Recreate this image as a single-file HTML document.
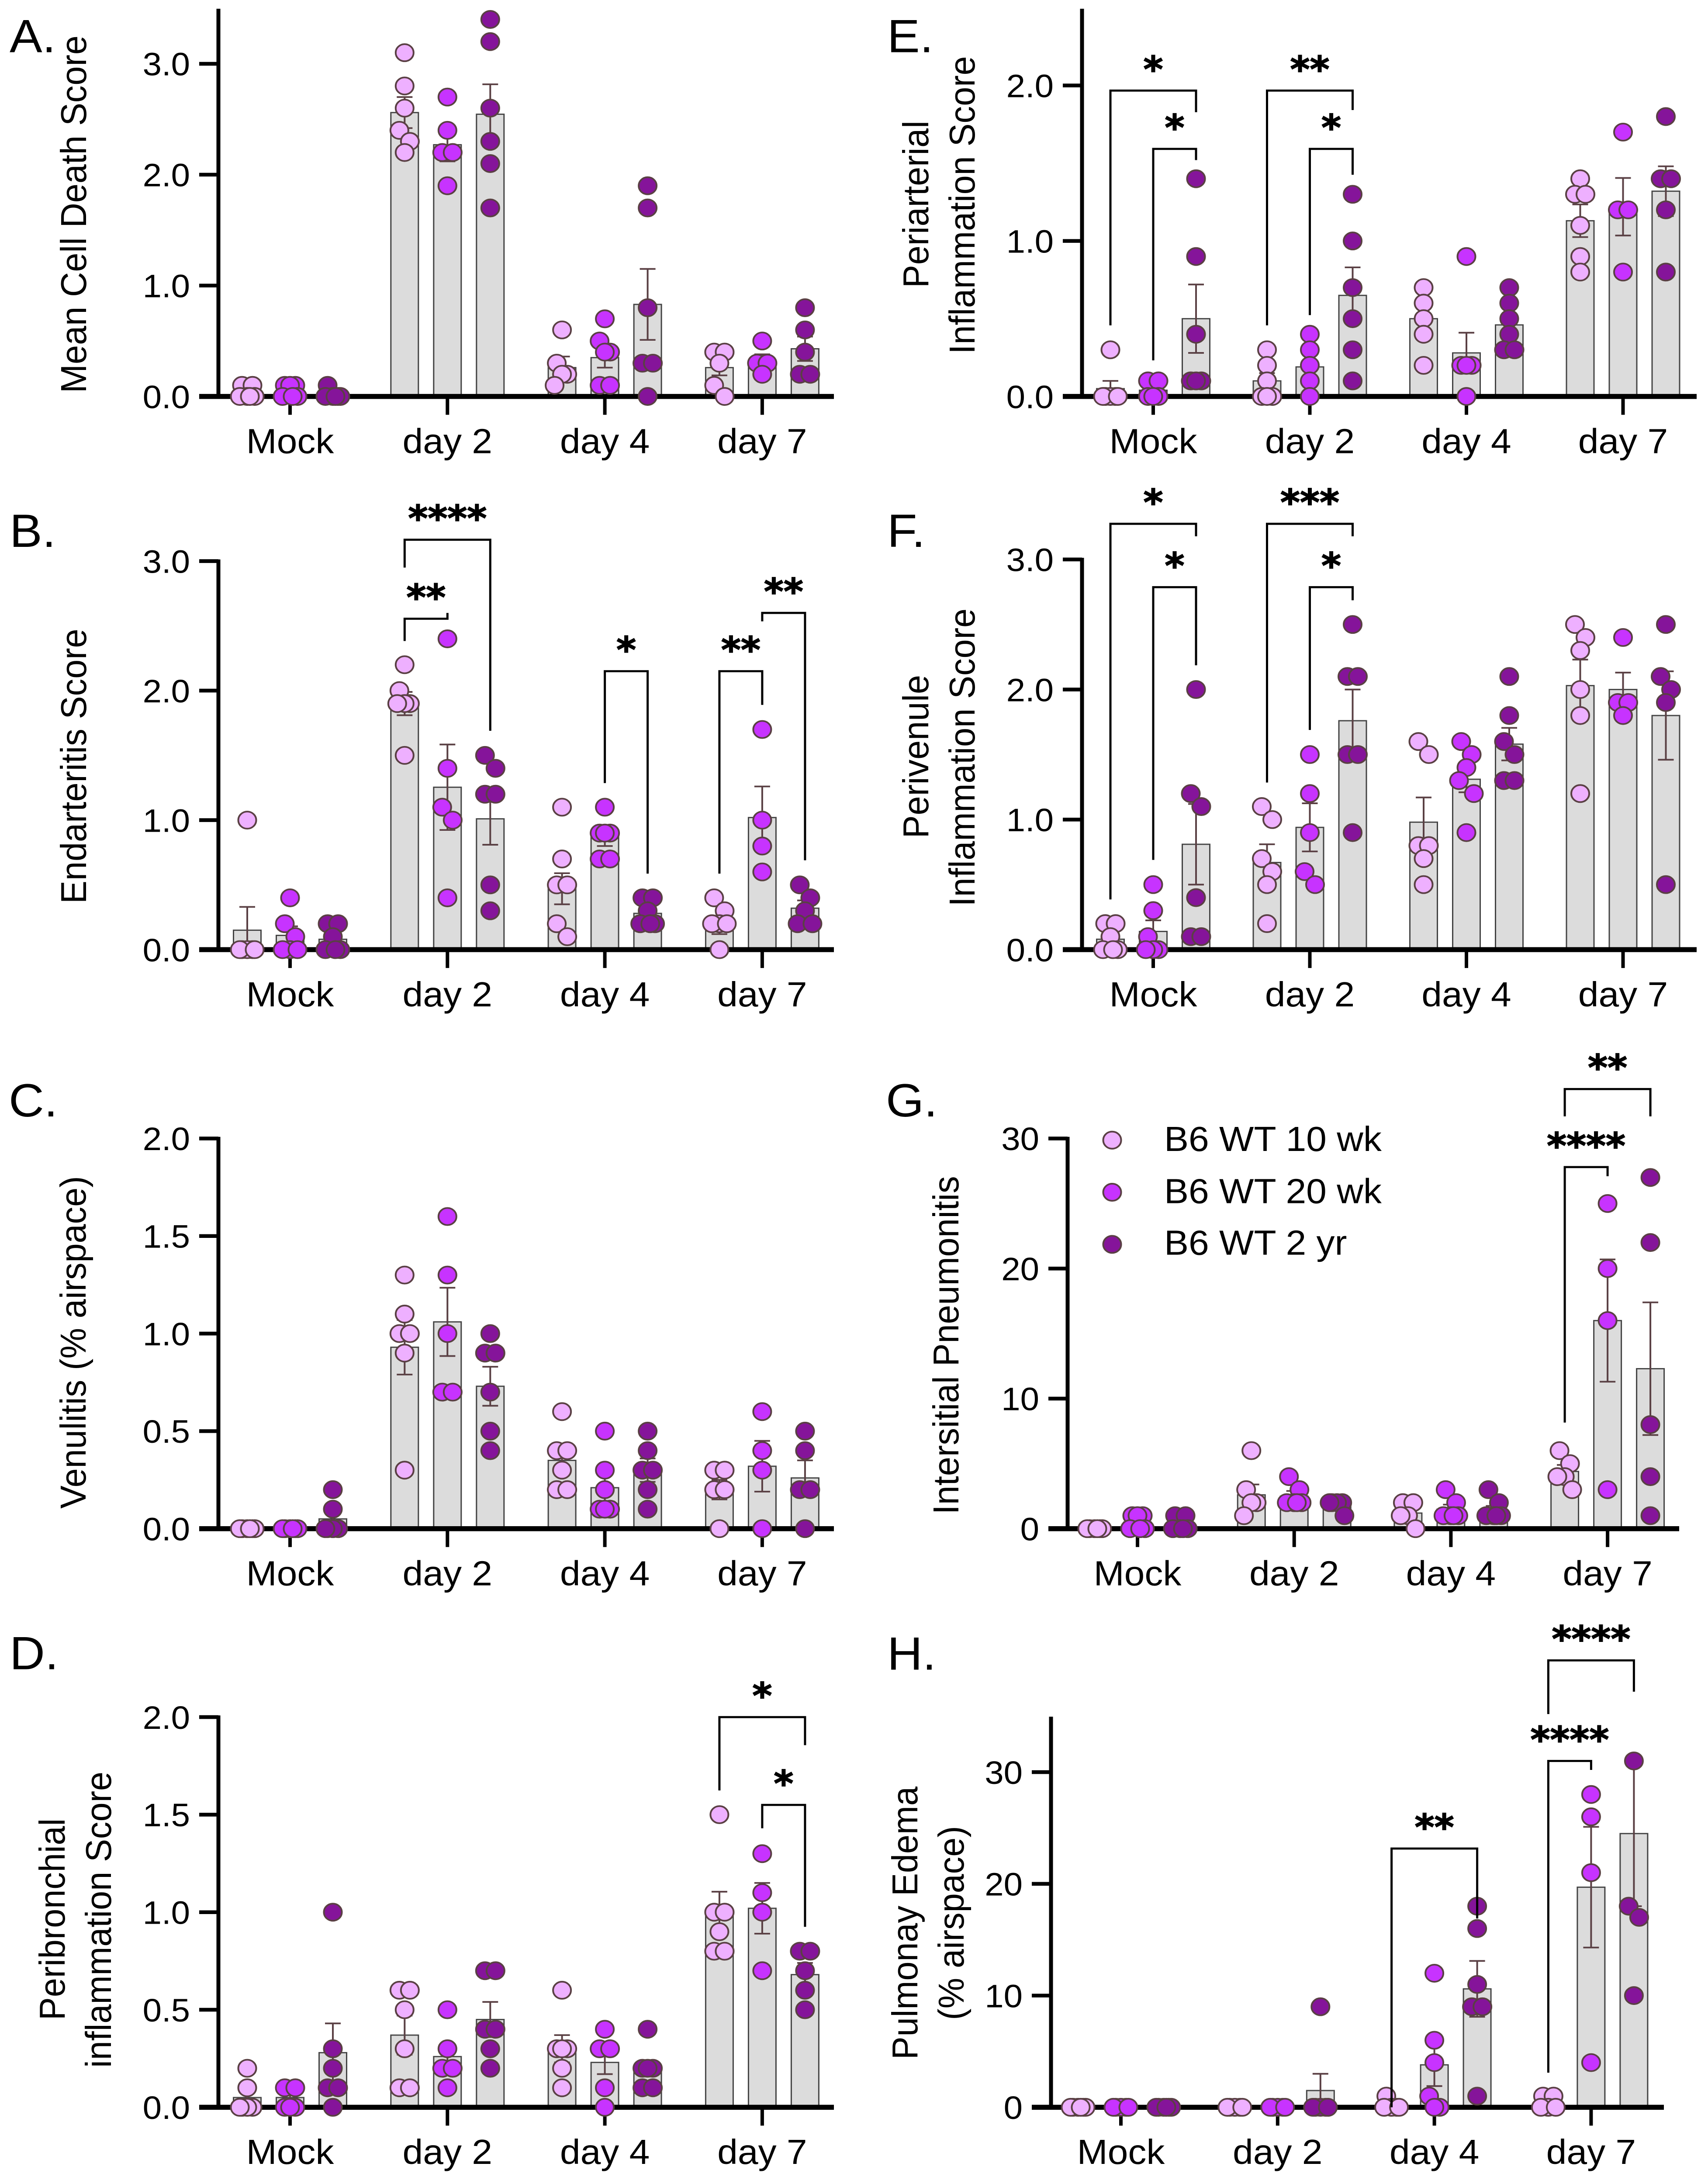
<!DOCTYPE html>
<html lang="en">
<head>
<meta charset="utf-8">
<title>Lung pathology scores by age group and day</title>
<style>
html,body{margin:0;padding:0;background:#fff;width:100%;height:100%;overflow:hidden}
svg{display:block;width:100vw;height:100vh}
text{font-family:"Liberation Sans",sans-serif;fill:#000}
.letter{font-size:112px}
.ytitle{font-size:83px;text-anchor:middle}
.legend-text{font-size:84px}
.tick-label{font-size:78px;text-anchor:end}
.cat-label{font-size:84px;text-anchor:middle}
.stars{font-family:"DejaVu Sans",sans-serif;font-weight:bold;font-size:86px;text-anchor:middle;stroke:#000;stroke-width:2px}
</style>
</head>
<body>
<svg id="figure" xmlns="http://www.w3.org/2000/svg" viewBox="0 0 3910 5239" preserveAspectRatio="none">
  <rect width="3910" height="5239" fill="#fff"/>

  <g id="panel-a">
    <text class="letter" x="22" y="125">A.</text>
    <text class="ytitle" transform="translate(197,514) rotate(-90)">Mean Cell Death Score</text>
  </g>
  <g id="panel-b">
    <text class="letter" x="22" y="1312">B.</text>
    <text class="ytitle" transform="translate(197,1838) rotate(-90)">Endarteritis Score</text>
  </g>
  <g id="panel-c">
    <text class="letter" x="20" y="2678">C.</text>
    <text class="ytitle" transform="translate(196,3220) rotate(-90)">Venulitis (% airspace)</text>
  </g>
  <g id="panel-d">
    <text class="letter" x="22" y="4004">D.</text>
    <text class="ytitle" transform="translate(148,4604) rotate(-90)">Peribronchial</text>
    <text class="ytitle" transform="translate(254,4605) rotate(-90)">inflammation Score</text>
  </g>
  <g id="panel-e">
    <text class="letter" x="2031" y="125">E.</text>
    <text class="ytitle" transform="translate(2125,490) rotate(-90)">Periarterial</text>
    <text class="ytitle" transform="translate(2231,492) rotate(-90)">Inflammation Score</text>
  </g>
  <g id="panel-f">
    <text class="letter" x="2031" y="1312">F.</text>
    <text class="ytitle" transform="translate(2125,1815) rotate(-90)">Perivenule</text>
    <text class="ytitle" transform="translate(2231,1817) rotate(-90)">Inflammation Score</text>
  </g>
  <g id="panel-g">
    <text class="letter" x="2028" y="2678">G.</text>
    <text class="ytitle" transform="translate(2194,3227) rotate(-90)">Intersitial Pneumonitis</text>
    <g>
      <g>
        <circle cx="2546" cy="2735" r="20.5" fill="#eeb0ff" stroke="#5a4044" stroke-width="4"/>
        <text class="legend-text" x="2665" y="2761">B6 WT 10 wk</text>
      </g>
      <g>
        <circle cx="2546" cy="2860" r="20.5" fill="#c733ff" stroke="#5a4044" stroke-width="4"/>
        <text class="legend-text" x="2665" y="2886">B6 WT 20 wk</text>
      </g>
      <g>
        <circle cx="2546" cy="2985" r="20.5" fill="#85149a" stroke="#5a4044" stroke-width="4"/>
        <text class="legend-text" x="2665" y="3010">B6 WT 2 yr</text>
      </g>
    </g>
  </g>
  <g id="panel-h">
    <text class="letter" x="2031" y="4005">H.</text>
    <text class="ytitle" transform="translate(2100,4613) rotate(-90)">Pulmonay Edema</text>
    <text class="ytitle" transform="translate(2206,4613) rotate(-90)">(% airspace)</text>
  </g>
</svg>

<script>
const categories = ['Mock', 'day 2', 'day 4', 'day 7'];
const seriesKeys = ['10wk', '20wk', '2yr'];

// Each points / means / sems array runs Mock(10wk,20wk,2yr), day 2(...), day 4(...), day 7(...)
const panelA_ticks = ['0.0', '1.0', '2.0', '3.0'];
const panelA_points = [
  [0.1,0.1,0,0,0,0],[0.1,0.1,0.1,0,0,0],[0.1,0,0,0,0,0],
  [3.1,2.8,2.6,2.4,2.3,2.2],[2.7,2.4,2.2,2.2,1.9],[3.4,3.2,2.6,2.3,2.1,1.7],
  [0.6,0.3,0.2,0.2,0.1],[0.7,0.5,0.4,0.4,0.1,0.1],[1.9,1.7,0.8,0.3,0.3,0],
  [0.4,0.4,0.3,0.1,0],[0.5,0.3,0.3,0.2],[0.8,0.6,0.4,0.2,0.2]
];
const panelA_means = [0.03,0.05,0.02, 2.56,2.27,2.545, 0.26,0.35,0.83, 0.26,0.32,0.43];
const panelA_sems = [0.02,0.02,0.02, 0.14,0.15,0.27, 0.1,0.09,0.32, 0.07,0.06,0.11];
const panelA_brackets = [];

const panelB_ticks = ['0.0', '1.0', '2.0', '3.0'];
const panelB_points = [
  [1.0,0,0,0,0,0],[0.4,0.2,0.1,0,0,0],[0.2,0.2,0.1,0,0,0],
  [2.2,2.0,1.9,1.9,1.9,1.5],[2.4,1.4,1.1,1.0,0.4],[1.5,1.4,1.2,1.2,0.5,0.3],
  [1.1,0.7,0.5,0.5,0.2,0.1],[1.1,0.9,0.9,0.9,0.7,0.7],[0.4,0.4,0.3,0.2,0.2,0.2],
  [0.4,0.3,0.2,0.2,0.2,0],[1.7,1.0,0.8,0.6],[0.5,0.4,0.3,0.2,0.2]
];
const panelB_means = [0.15,0.11,0.08, 1.9,1.254,1.01, 0.47,0.87,0.28, 0.18,1.02,0.32];
const panelB_sems = [0.18,0.07,0.04, 0.09,0.33,0.2, 0.12,0.07,0.04, 0.06,0.24,0.06];
// group, seriesFrom, seriesTo, topValue, leftEndValue, rightEndValue, stars
const panelB_brackets = [
  [1,0,2,3.165,2.95,1.69,'****'],
  [1,0,1,2.555,2.383,2.6,'**'],
  [2,1,2,2.15,1.286,0.587,'*'],
  [3,0,1,2.15,0.587,1.89,'**'],
  [3,1,2,2.6,2.535,0.69,'**']
];

const panelC_ticks = ['0.0', '0.5', '1.0', '1.5', '2.0'];
const panelC_points = [
  [0,0,0,0,0,0],[0,0,0,0,0,0],[0.2,0.1,0,0,0,0],
  [1.3,1.1,1.0,1.0,0.9,0.3],[1.6,1.3,1.0,0.7,0.7],[1.0,0.9,0.9,0.7,0.5,0.4],
  [0.6,0.4,0.4,0.3,0.2,0.2],[0.5,0.3,0.2,0.1,0.1,0.1],[0.5,0.4,0.3,0.3,0.2,0.1],
  [0.3,0.3,0.2,0.2,0],[0.6,0.4,0.3,0],[0.5,0.4,0.2,0.2,0]
];
const panelC_means = [0,0,0.05, 0.93,1.06,0.73, 0.35,0.21,0.3, 0.2,0.32,0.26];
const panelC_sems = [0,0,0.035, 0.14,0.175,0.1, 0.07,0.07,0.06, 0.05,0.13,0.09];
const panelC_brackets = [];

const panelD_ticks = ['0.0', '0.5', '1.0', '1.5', '2.0'];
const panelD_points = [
  [0.2,0.1,0,0,0,0],[0.1,0.1,0,0,0],[1.0,0.3,0.2,0.1,0.1,0],
  [0.6,0.6,0.5,0.3,0.1,0.1],[0.5,0.3,0.2,0.2,0.1],[0.7,0.7,0.4,0.4,0.3,0.2],
  [0.6,0.3,0.3,0.3,0.2,0.1],[0.4,0.3,0.3,0.1,0],[0.4,0.2,0.2,0.2,0.1,0.1],
  [1.5,1.0,1.0,0.9,0.8,0.8],[1.3,1.1,1.0,0.7],[0.8,0.8,0.7,0.6,0.5]
];
const panelD_means = [0.05,0.05,0.28, 0.37,0.26,0.45, 0.3,0.23,0.2, 1.0,1.02,0.68];
const panelD_sems = [0.03,0.02,0.15, 0.1,0.05,0.09, 0.07,0.06,0.04, 0.105,0.13,0.06];
const panelD_brackets = [
  [3,0,2,2.0,1.624,1.856,'*'],
  [3,1,2,1.55,1.43,0.925,'*']
];

const panelE_ticks = ['0.0', '1.0', '2.0'];
const panelE_points = [
  [0.3,0,0,0,0,0],[0.1,0.1,0,0,0],[1.4,0.9,0.4,0.1,0.1,0.1],
  [0.3,0.2,0.1,0,0,0],[0.4,0.3,0.2,0.1,0],[1.3,1.0,0.7,0.5,0.3,0.1],
  [0.7,0.6,0.5,0.4,0.2],[0.9,0.2,0.2,0.2,0],[0.7,0.6,0.5,0.4,0.3,0.3],
  [1.4,1.3,1.3,1.1,0.9,0.8],[1.7,1.2,1.2,0.8],[1.8,1.4,1.4,1.2,0.8]
];
const panelE_means = [0.05,0.04,0.5, 0.1,0.19,0.65, 0.5,0.28,0.46, 1.13,1.22,1.32];
const panelE_sems = [0.05,0.03,0.22, 0.05,0.08,0.18, 0.08,0.13,0.07, 0.105,0.185,0.16];
const panelE_brackets = [
  [0,0,2,1.967,0.457,1.828,'*'],
  [0,1,2,1.592,0.232,1.52,'*'],
  [1,0,2,1.967,0.457,1.842,'**'],
  [1,1,2,1.592,0.523,1.426,'*']
];

const panelF_ticks = ['0.0', '1.0', '2.0', '3.0'];
const panelF_points = [
  [0.2,0.2,0.1,0,0,0],[0.5,0.3,0.1,0,0,0],[2.0,1.2,1.1,0.4,0.1,0.1],
  [1.1,1.0,0.7,0.6,0.5,0.2],[1.5,1.2,0.9,0.6,0.5],[2.5,2.1,2.1,1.5,1.5,0.9],
  [1.6,1.5,0.8,0.8,0.7,0.5],[1.6,1.5,1.4,1.3,1.2,0.9],[2.1,1.8,1.6,1.5,1.3,1.3],
  [2.5,2.4,2.3,2.0,1.8,1.2],[2.4,1.9,1.9,1.8],[2.5,2.1,2.0,1.9,0.5]
];
const panelF_means = [0.08,0.14,0.81, 0.67,0.94,1.76, 0.98,1.31,1.58, 2.03,2.0,1.8];
const panelF_sems = [0.04,0.085,0.31, 0.14,0.185,0.24, 0.19,0.1,0.125, 0.2,0.13,0.34];
const panelF_brackets = [
  [0,0,2,3.274,0.386,3.178,'*'],
  [0,1,2,2.787,0.69,2.186,'*'],
  [1,0,2,3.274,1.285,3.178,'***'],
  [1,1,2,2.787,1.689,2.686,'*']
];

const panelG_ticks = ['0', '10', '20', '30'];
const panelG_points = [
  [0,0,0,0,0,0],[1,1,1,0,0,0],[1,1,0,0,0,0],
  [6,3,2,2,1],[4,3,2,2,2,2],[2,2,2,2,1],
  [2,2,1,1,0],[3,2,1,1,1,1],[3,2,1,1,1,1],
  [6,5,4,4,3],[25,20,16,3],[27,22,8,4,1]
];
const panelG_means = [0,0.5,0.4, 2.6,2.5,1.8, 1.2,1.5,1.4, 4.4,16,12.3];
const panelG_sems = [0,0.2,0.2, 0.8,0.4,0.2, 0.4,0.35,0.35, 0.5,4.7,5.1];
const panelG_brackets = [
  [3,0,2,33.8,31.7,31.7,'**'],
  [3,0,1,27.8,8.16,27.1,'****']
];

const panelH_ticks = ['0', '10', '20', '30'];
const panelH_points = [
  [0,0,0,0,0,0],[0,0,0,0,0],[0,0,0,0,0,0],
  [0,0,0,0,0],[0,0,0,0,0],[9,0,0,0,0,0],
  [1,0,0,0,0],[12,6,4,1,0,0],[18,16,11,9,9,1],
  [1,1,0,0,0],[28,26,21,4],[31,18,17,10]
];
const panelH_means = [0,0,0, 0,0,1.5, 0.2,3.8,10.6, 0.4,19.7,24.5];
const panelH_sems = [0,0,0, 0,0,1.5, 0.2,1.9,2.5, 0.2,5.4,6.5];
const panelH_brackets = [
  [2,0,2,23.16,0,16.9,'**'],
  [3,0,2,40,35.2,37.2,'****'],
  [3,0,1,31,3.1,30.2,'****']
];

const SVGNS = 'http://www.w3.org/2000/svg';
const FILLS = ['#eeb0ff', '#c733ff', '#85149a'];
const MARK_STROKE = '#5a4044';
const BAR_PITCH = 98;
const BAR_W = 63;
const CLUSTER_PX = 33;
const SWARM_OFFSETS = [-12, 12, 0, -17, 17, 6];

function mk(tag, attrs, parent) {
  const el = document.createElementNS(SVGNS, tag);
  for (const k in attrs) el.setAttribute(k, attrs[k]);
  parent.appendChild(el);
  return el;
}

function swarm(values, pxPerUnit) {
  const sorted = values.slice().sort((a, b) => b - a);
  const out = [];
  let i = 0;
  while (i < sorted.length) {
    let j = i + 1;
    while (j < sorted.length && (sorted[j - 1] - sorted[j]) * pxPerUnit < CLUSTER_PX) j++;
    const n = j - i;
    for (let k = 0; k < n; k++) {
      out.push({ v: sorted[i + k], dx: n === 1 ? 0 : SWARM_OFFSETS[k % SWARM_OFFSETS.length] });
    }
    i = j;
  }
  return out;
}

function drawPanel(cfg, ticks, points, means, sems, brackets) {
  const root = document.getElementById('panel-' + cfg.id);
  const maxTick = parseFloat(ticks[ticks.length - 1]);
  const pxPerUnit = (cfg.y0 - cfg.yMaxTick) / maxTick;
  const y = v => cfg.y0 - v * pxPerUnit;
  const gx = g => cfg.g0 + g * cfg.step;
  const x = (g, s) => gx(g) + (s - 1) * BAR_PITCH;

  // bars
  means.forEach((m, i) => {
    const g = Math.floor(i / 3), s = i % 3;
    if (m <= 0) return;
    const bar = mk('rect', { x: x(g, s) - BAR_W / 2, y: y(m), width: BAR_W, height: cfg.y0 - y(m), fill: '#dcdcdc', stroke: '#444', 'stroke-width': 3 }, root);
    
    
  });

  // error bars
  sems.forEach((e, i) => {
    const g = Math.floor(i / 3), s = i % 3;
    if (e <= 0) return;
    const cx = x(g, s);
    const hi = y(means[i] + e), lo = y(Math.max(0, means[i] - e));
    const err = mk('path', { d: `M${cx} ${lo}V${hi}M${cx - 18} ${hi}H${cx + 18}M${cx - 18} ${lo}H${cx + 18}`, fill: 'none', stroke: MARK_STROKE, 'stroke-width': 4 }, root);
    
    
  });

  // axes
  const yAxis = mk('line', { x1: cfg.axisX, x2: cfg.axisX, y1: cfg.axisTop, y2: cfg.y0 + 5, stroke: '#000', 'stroke-width': 9 }, root);
  
  
  const xAxis = mk('line', { x1: cfg.axisX - 44, x2: cfg.axisRight, y1: cfg.y0, y2: cfg.y0, stroke: '#000', 'stroke-width': 12 }, root);
  
  

  ticks.forEach(t => {
    const v = parseFloat(t);
    const tk = mk('line', { x1: cfg.axisX - 44, x2: cfg.axisX, y1: y(v), y2: y(v), stroke: '#000', 'stroke-width': 9 }, root);
    
    
    const lb = mk('text', { class: 'tick-label', x: cfg.axisX - 65, y: y(v) + 28 }, root);
    
    
    lb.textContent = t;
  });

  categories.forEach((c, g) => {
    const tk = mk('line', { x1: gx(g), x2: gx(g), y1: cfg.y0, y2: cfg.y0 + 44, stroke: '#000', 'stroke-width': 8 }, root);
    
    
    const lb = mk('text', { class: 'cat-label', x: gx(g), y: cfg.y0 + 136 }, root);
    
    
    lb.textContent = c;
  });

  // points
  points.forEach((vals, i) => {
    const g = Math.floor(i / 3), s = i % 3;
    swarm(vals, pxPerUnit).forEach(p => {
      const dot = mk('circle', { cx: x(g, s) + p.dx, cy: y(p.v), r: 20.5, fill: FILLS[s], stroke: MARK_STROKE, 'stroke-width': 4 }, root);
      
      
    });
  });

  // significance brackets
  brackets.forEach(b => {
    const x1 = x(b[0], b[1]), x2 = x(b[0], b[2]);
    const path = mk('path', { d: `M${x1} ${y(b[4])}V${y(b[3])}H${x2}V${y(b[5])}`, fill: 'none', stroke: '#000', 'stroke-width': 5 }, root);
    
    
    const st = mk('text', { class: 'stars', x: (x1 + x2) / 2, y: y(b[3]) - 21 }, root);
    
    
    st.textContent = b[6];
  });
}

drawPanel({ id: 'a', axisX: 500, axisTop: 21, axisRight: 1909, y0: 951, yMaxTick: 153, g0: 664, step: 360.3 }, panelA_ticks, panelA_points, panelA_means, panelA_sems, panelA_brackets);
drawPanel({ id: 'b', axisX: 500, axisTop: 1342, axisRight: 1909, y0: 2278, yMaxTick: 1346, g0: 664, step: 360.3 }, panelB_ticks, panelB_points, panelB_means, panelB_sems, panelB_brackets);
drawPanel({ id: 'c', axisX: 500, axisTop: 2727, axisRight: 1909, y0: 3667, yMaxTick: 2731, g0: 664, step: 360.3 }, panelC_ticks, panelC_points, panelC_means, panelC_sems, panelC_brackets);
drawPanel({ id: 'd', axisX: 500, axisTop: 4115, axisRight: 1909, y0: 5055, yMaxTick: 4119, g0: 664, step: 360.3 }, panelD_ticks, panelD_points, panelD_means, panelD_sems, panelD_brackets);
drawPanel({ id: 'e', axisX: 2477, axisTop: 21, axisRight: 3884, y0: 951, yMaxTick: 205, g0: 2640, step: 358.5 }, panelE_ticks, panelE_points, panelE_means, panelE_sems, panelE_brackets);
drawPanel({ id: 'f', axisX: 2477, axisTop: 1338, axisRight: 3884, y0: 2278, yMaxTick: 1342, g0: 2640, step: 358.5 }, panelF_ticks, panelF_points, panelF_means, panelF_sems, panelF_brackets);
drawPanel({ id: 'g', axisX: 2444, axisTop: 2727, axisRight: 3844, y0: 3667, yMaxTick: 2731, g0: 2604, step: 358.7 }, panelG_ticks, panelG_points, panelG_means, panelG_sems, panelG_brackets);
drawPanel({ id: 'h', axisX: 2406, axisTop: 4118, axisRight: 3809, y0: 5055, yMaxTick: 4251, g0: 2566, step: 358.8 }, panelH_ticks, panelH_points, panelH_means, panelH_sems, panelH_brackets);
</script>
</body>
</html>
